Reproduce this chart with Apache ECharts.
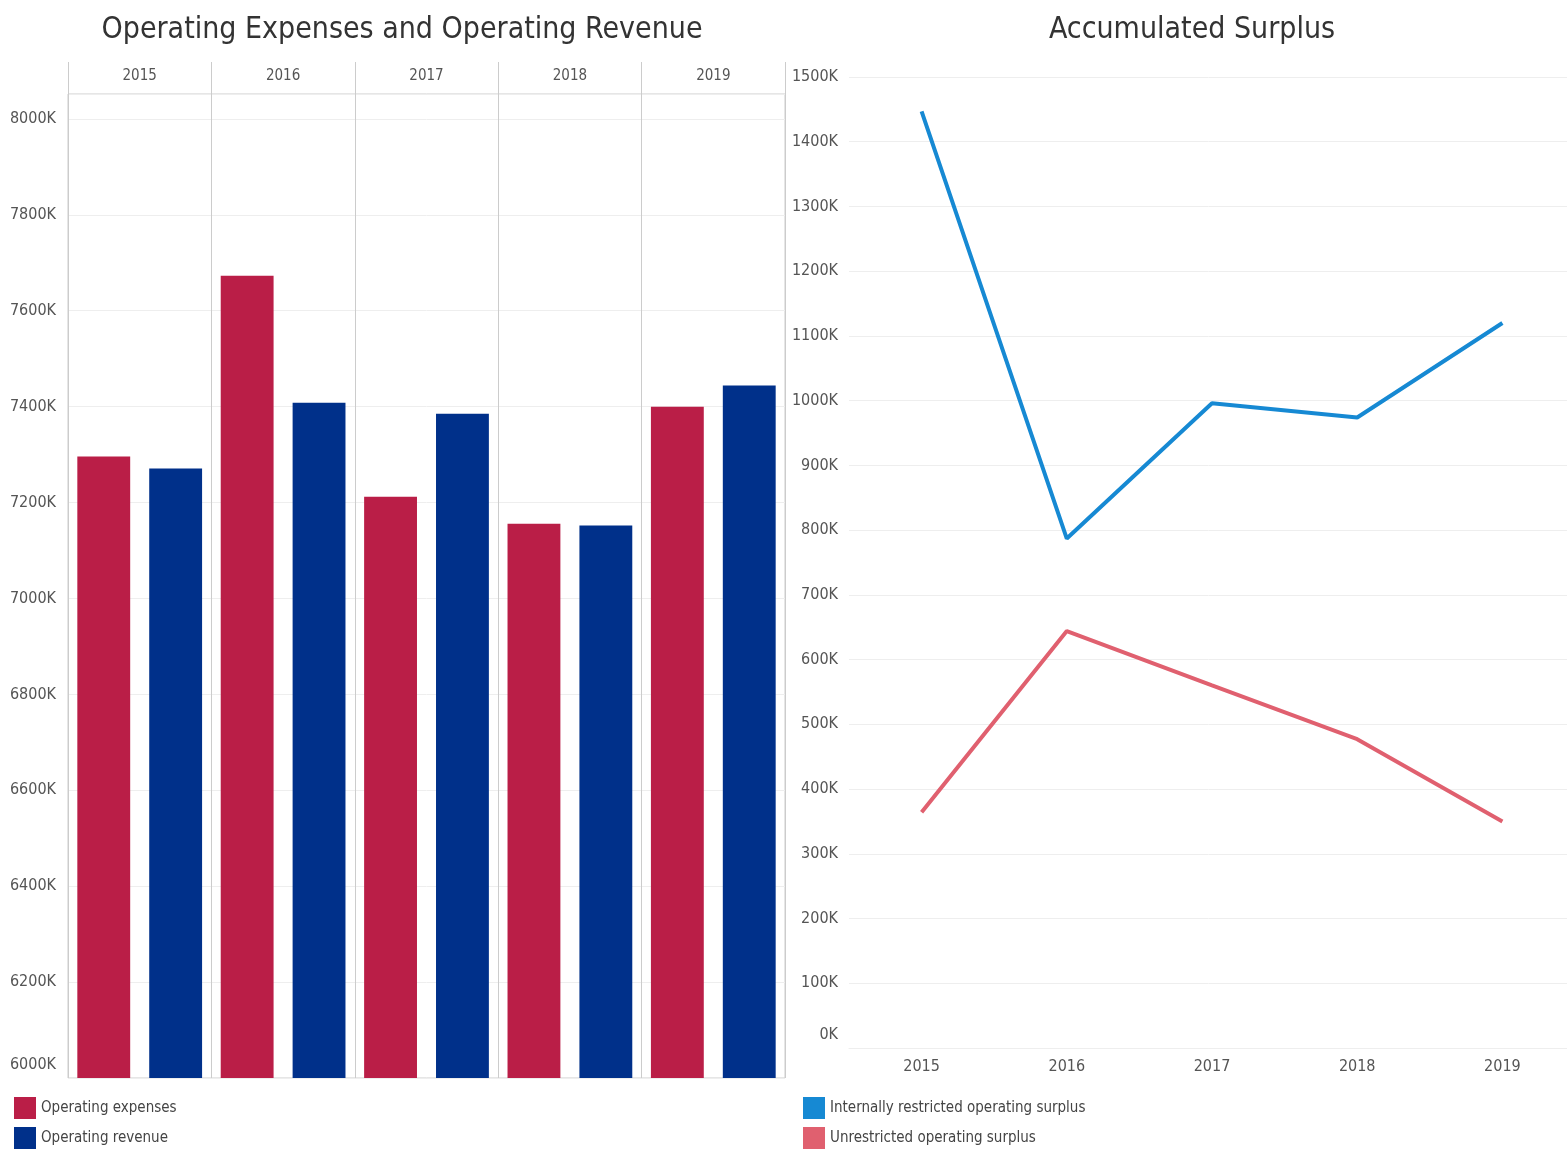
<!DOCTYPE html>
<html>
<head>
<meta charset="utf-8">
<script src="https://cdn.jsdelivr.net/npm/echarts@6/dist/echarts.min.js"></script>
<style>
  html, body { margin: 0; padding: 0; background: #fff; }
  #main { width: 1567px; height: 1152px; }
</style>
</head>
<body>
<div id="main"></div>
<script>
// years on both charts
const years = ['2015', '2016', '2017', '2018', '2019'];

// left chart, in K
const operatingExpenses = [7296, 7673, 7212, 7156, 7400];
const operatingRevenue = [7271, 7408, 7385, 7152, 7444];

// right chart, in K
const internallyRestricted = [1447, 787, 996, 974, 1120];
const unrestricted = [364, 644, 560, 477, 350];

const font = "'DejaVu Sans Condensed', 'Liberation Sans Narrow', sans-serif";

const chart = echarts.init(document.getElementById('main'));

// push the lowest label up a bit like in the original
function kLabel(min) {
    return function (v) {
        const s = v + 'K';
        return v === min ? '{lo|' + s + '}' : s;
    };
}
const loRich = { lo: { padding: [0, 0, 26, 0], fontFamily: font, fontSize: 16, color: '#555' } };

const option = {
    textStyle: { fontFamily: font },
    title: [
        {
            text: 'Operating Expenses and Operating Revenue',
            left: 397, top: 10, textAlign: 'center',
            textStyle: { fontFamily: font, fontSize: 30, fontWeight: 'normal', color: '#333' }
        },
        {
            text: 'Accumulated Surplus',
            left: 1187, top: 10, textAlign: 'center',
            textStyle: { fontFamily: font, fontSize: 30, fontWeight: 'normal', color: '#333' }
        }
    ],
    legend: [
        {
            data: ['Operating expenses', 'Operating revenue'],
            orient: 'vertical', left: 14, top: 1097, padding: 0,
            icon: 'rect', itemWidth: 22, itemHeight: 22, itemGap: 8,
            textStyle: { fontFamily: font, fontSize: 15, color: '#444' }
        },
        {
            data: ['Internally restricted operating surplus', 'Unrestricted operating surplus'],
            orient: 'vertical', left: 803, top: 1097, padding: 0,
            icon: 'rect', itemWidth: 22, itemHeight: 22, itemGap: 8,
            textStyle: { fontFamily: font, fontSize: 15, color: '#444' }
        }
    ],
    grid: [
        { left: 68, top: 94, width: 717, height: 984, show: true, borderColor: '#ccc', borderWidth: 1, outerBoundsMode: 'none' },
        { left: 849, top: 77, width: 726, height: 971, outerBoundsMode: 'none' }
    ],
    xAxis: [
        {
            gridIndex: 0, type: 'category', data: years, position: 'top',
            axisLine: { show: false },
            axisTick: { show: true, length: 32, lineStyle: { color: '#ccc' } },
            axisLabel: { fontSize: 15, color: '#555', margin: 10 },
            splitLine: { show: true, lineStyle: { color: '#ccc' } }
        },
        {
            gridIndex: 1, type: 'category', data: years,
            axisLine: { lineStyle: { color: '#eee' } },
            axisTick: { show: false },
            axisLabel: { fontSize: 16, color: '#555', margin: 11 }
        }
    ],
    yAxis: [
        {
            gridIndex: 0, type: 'value', min: 6000, max: 8052, interval: 200,
            axisLine: { show: false }, axisTick: { show: false },
            axisLabel: { fontSize: 16, color: '#555', margin: 12, formatter: kLabel(6000), rich: loRich, showMaxLabel: false },
            splitLine: { lineStyle: { color: '#eee' } }
        },
        {
            gridIndex: 1, type: 'value', min: 0, max: 1500, interval: 100,
            axisLine: { show: false }, axisTick: { show: false },
            axisLabel: { fontSize: 16, color: '#555', margin: 11, formatter: kLabel(0), rich: loRich },
            splitLine: { lineStyle: { color: '#eee' } }
        }
    ],
    series: [
        {
            name: 'Operating expenses', type: 'bar', xAxisIndex: 0, yAxisIndex: 0,
            data: operatingExpenses, itemStyle: { color: '#BA1E47' },
            barGap: '36%', barCategoryGap: '13%'
        },
        {
            name: 'Operating revenue', type: 'bar', xAxisIndex: 0, yAxisIndex: 0,
            data: operatingRevenue, itemStyle: { color: '#00308A' }
        },
        {
            name: 'Internally restricted operating surplus', type: 'line', xAxisIndex: 1, yAxisIndex: 1,
            data: internallyRestricted, showSymbol: false, symbol: 'none',
            lineStyle: { width: 4, color: '#1689D3' }, itemStyle: { color: '#1689D3' }
        },
        {
            name: 'Unrestricted operating surplus', type: 'line', xAxisIndex: 1, yAxisIndex: 1,
            data: unrestricted, showSymbol: false, symbol: 'none',
            lineStyle: { width: 4, color: '#E0606F' }, itemStyle: { color: '#E0606F' }
        }
    ]
};

chart.setOption(option);
</script>
</body>
</html>
